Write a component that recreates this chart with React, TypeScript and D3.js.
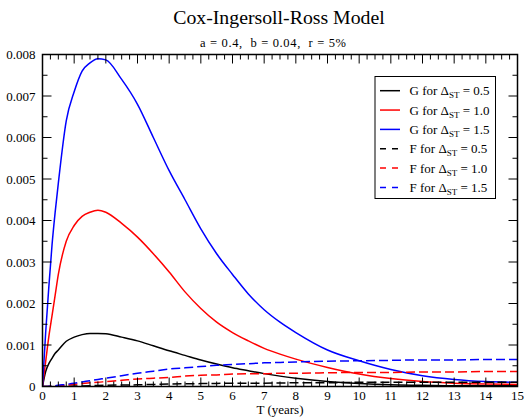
import React from 'react';
import * as d3 from 'd3';

const tGrid = [0, 0.1, 0.2, 0.3, 0.4, 0.5, 0.75, 1, 1.25, 1.5, 1.75, 2, 2.5, 3, 3.5, 4, 4.5, 5, 5.5, 6, 6.5, 7, 7.5, 8, 9, 10, 11, 12, 13, 14, 15];

const g05 = [0, 0.00036, 0.00055, 0.00068, 0.0008, 0.00088, 0.00109, 0.00119, 0.00125, 0.00128, 0.00128, 0.00127, 0.00119, 0.0011, 0.00098, 0.00086, 0.00075, 0.00064, 0.00054, 0.00045, 0.00038, 0.00031, 0.00025, 0.0002, 0.00012, 0.00007, 0.00004, 0.00003, 0.00002, 0.00002, 0.00002];
const g10 = [0, 0.0006, 0.0012, 0.0017, 0.0022, 0.0027, 0.0035, 0.00388, 0.0041, 0.0042, 0.00425, 0.0042, 0.00393, 0.0036, 0.0032, 0.00276, 0.00228, 0.00188, 0.00155, 0.0013, 0.0011, 0.00092, 0.00078, 0.00066, 0.00046, 0.0003, 0.00019, 0.00012, 0.00008, 0.00006, 0.00005];
const g15 = [0, 0.0013, 0.0024, 0.0034, 0.0042, 0.0049, 0.0064, 0.0071, 0.0076, 0.0078, 0.0079, 0.00787, 0.0074, 0.0068, 0.006, 0.0052, 0.0045, 0.0038, 0.0032, 0.0027, 0.00223, 0.00185, 0.00155, 0.0013, 0.00088, 0.00062, 0.00041, 0.00026, 0.00017, 0.00012, 0.0001];
const f05 = [0, 0, 0, 0, 0.000003, 0.000005, 0.000008, 0.00001, 0.000015, 0.00002, 0.000025, 0.00003, 0.000035, 0.00004, 0.00005, 0.00006, 0.000065, 0.00007, 0.000075, 0.00008, 0.00008, 0.00008, 0.000085, 0.00009, 0.00009, 0.0001, 0.0001, 0.0001, 0.0001, 0.0001, 0.0001];
const f10 = [0, 0, 0.000003, 0.000006, 0.00001, 0.00002, 0.00003, 0.00005, 0.00007, 0.00009, 0.0001, 0.00012, 0.00015, 0.00018, 0.0002, 0.00022, 0.00025, 0.00027, 0.00028, 0.0003, 0.00031, 0.00031, 0.00032, 0.00032, 0.00033, 0.00034, 0.00034, 0.00035, 0.00035, 0.00036, 0.00036];
const f15 = [0, 0, 0.000005, 0.00001, 0.00002, 0.00003, 0.00005, 0.00008, 0.00011, 0.00014, 0.00017, 0.0002, 0.00026, 0.00032, 0.00037, 0.00042, 0.00045, 0.00048, 0.00051, 0.00053, 0.00055, 0.00057, 0.00058, 0.00059, 0.00061, 0.00062, 0.00063, 0.00064, 0.00064, 0.00065, 0.00065];

const seriesLabels = ['G', 'G', 'G', 'F', 'F', 'F'];
const deltaLabels = ['0.5', '1.0', '1.5', '0.5', '1.0', '1.5'];
const seriesValues = [g05, g10, g15, f05, f10, f15];
const seriesColors = ['#000000', '#ff0000', '#0000ff', '#000000', '#ff0000', '#0000ff'];

const xTickValues = d3.range(0, 16);
const yTickValues = d3.range(0, 0.0081, 0.001);
const yTickLabels = ['0', '0.001', '0.002', '0.003', '0.004', '0.005', '0.006', '0.007', '0.008'];

const W = 525;
const H = 417;
const margin = { top: 54.5, right: 7.5, bottom: 30.5, left: 42.5 };
const font = 'Liberation Serif, serif';

export default function App() {
  const x = d3.scaleLinear().domain([0, 15]).range([margin.left, W - margin.right]);
  const y = d3.scaleLinear().domain([0, 0.008]).range([H - margin.bottom, margin.top]);

  const line = d3
    .line<number>()
    .x((_, i) => x(tGrid[i]))
    .y((d) => y(d))
    .curve(d3.curveMonotoneX);

  const xMinor = d3.range(0, 15.001, 0.25).filter((v) => Math.abs(v - Math.round(v)) > 1e-6);
  const yMinor = d3.range(0.0005, 0.008, 0.001);

  const left = x(0);
  const right = x(15);
  const top = y(0.008);
  const bottom = y(0);

  return (
    <svg width={W} height={H} style={{ position: 'absolute', left: 0, top: 0, background: '#fff', fontFamily: font }}>
      <text x={279} y={23.5} textAnchor="middle" fontSize={19.8}>Cox-Ingersoll-Ross Model</text>
      <text x={273} y={46.5} textAnchor="middle" fontSize={12.5} textLength={146} lengthAdjust="spacing">
        {'a = 0.4,\u00a0\u00a0b = 0.04,\u00a0\u00a0r = 5%'}
      </text>

      <defs>
        <clipPath id="plot">
          <rect x={left} y={top - 2} width={right - left} height={bottom - top + 2} />
        </clipPath>
      </defs>

      {/* curves */}
      <g clipPath="url(#plot)">
        {seriesValues.map((vals, i) => (
          <path
            key={i}
            d={line(vals) ?? ''}
            fill="none"
            stroke={seriesColors[i]}
            strokeWidth={1.5}
            strokeDasharray={i >= 3 ? '9,4' : undefined}
          />
        ))}
      </g>

      {/* ticks, inward on all four sides */}
      <g stroke="#000" strokeWidth={1}>
        {xTickValues.map((v) => (
          <g key={'xt' + v}>
            <line x1={x(v)} x2={x(v)} y1={bottom} y2={bottom - 9} />
            <line x1={x(v)} x2={x(v)} y1={top} y2={top + 9} />
          </g>
        ))}
        {xMinor.map((v) => (
          <g key={'xm' + v}>
            <line x1={x(v)} x2={x(v)} y1={bottom} y2={bottom - 5} />
            <line x1={x(v)} x2={x(v)} y1={top} y2={top + 5} />
          </g>
        ))}
        {yTickValues.map((v) => (
          <g key={'yt' + v}>
            <line x1={left} x2={left + 9} y1={y(v)} y2={y(v)} />
            <line x1={right} x2={right - 9} y1={y(v)} y2={y(v)} />
          </g>
        ))}
        {yMinor.map((v) => (
          <g key={'ym' + v}>
            <line x1={left} x2={left + 5} y1={y(v)} y2={y(v)} />
            <line x1={right} x2={right - 5} y1={y(v)} y2={y(v)} />
          </g>
        ))}
      </g>

      <rect x={left} y={top} width={right - left} height={bottom - top} fill="none" stroke="#000" strokeWidth={1.5} />

      {/* tick labels */}
      {xTickValues.map((v) => (
        <text key={'xl' + v} x={x(v)} y={400} textAnchor="middle" fontSize={13}>{v}</text>
      ))}
      {yTickValues.map((v, i) => (
        <text key={'yl' + i} x={35.5} y={y(v) + 4.5} textAnchor="end" fontSize={13}>{yTickLabels[i]}</text>
      ))}
      <text x={(left + right) / 2} y={413.5} textAnchor="middle" fontSize={13}>T (years)</text>

      {/* legend */}
      <rect x={375} y={76.5} width={120.5} height={122} fill="#fff" stroke="#000" strokeWidth={1} />
      {seriesValues.map((_, i) => {
        const ly = 90.7 + i * 19.35;
        return (
          <g key={'lg' + i}>
            <line x1={380} x2={400} y1={ly} y2={ly} stroke={seriesColors[i]} strokeWidth={1.5} strokeDasharray={i >= 3 ? '6,6' : undefined} />
            <text x={409.5} y={ly + 4.5} fontSize={13}>
              <tspan>{seriesLabels[i]} for Δ</tspan>
              <tspan fontSize={9} dy={3}>ST</tspan>
              <tspan dy={-3}>{' = ' + deltaLabels[i]}</tspan>
            </text>
          </g>
        );
      })}
    </svg>
  );
}
